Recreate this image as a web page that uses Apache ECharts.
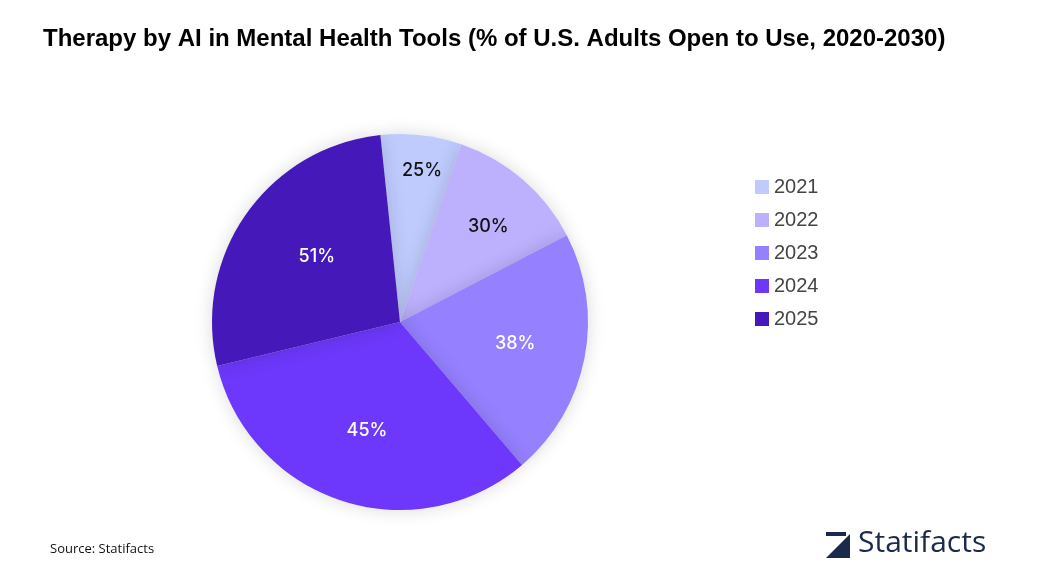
<!DOCTYPE html>
<html><head><meta charset="utf-8">
<script src="https://cdn.jsdelivr.net/npm/echarts@6/dist/echarts.min.js"></script>
<style>html,body{margin:0;padding:0;background:#fff}#c{width:1043px;height:586px}</style>
</head><body><div id="c"></div>
<script>
// categories and values
const years = ['2021', '2022', '2023', '2024', '2025'];
const percents = [25, 30, 38, 45, 51];
// slice sizes in degrees as drawn in the reference (not proportional to labels)
const sliceDegrees = [25, 43.5, 77, 117, 97.5];
const colors = ['#bfcbfd', '#bdb0fd', '#9580ff', '#6d38fb', '#4418b9'];
const labelColors = ['#111', '#111', '#fff', '#fff', '#fff'];
// nudges so labels sit where the reference puts them
const labelOffsets = [[11, -55], [25, -22], [20, 3], [-3, 16], [-4, -9]];

const chart = echarts.init(document.getElementById('c'));
chart.setOption({
  animation: false,
  title: {
    text: 'Therapy by AI in Mental Health Tools (% of U.S. Adults Open to Use, 2020-2030)',
    left: 38, top: 22,
    textStyle: { fontFamily: 'Liberation Sans, Arial', fontWeight: 'bold', fontSize: 24, color: '#000' }
  },
  legend: {
    orient: 'vertical', left: 750, top: 172, itemGap: 13,
    itemWidth: 14, itemHeight: 14, icon: 'rect',
    textStyle: { fontFamily: 'Liberation Sans, Arial', fontSize: 20, color: '#444' },
    data: years
  },
  graphic: [
    { type: 'text', left: 50, top: 543, style: { text: 'Source: Statifacts', font: '13px "Open Sans", sans-serif', fill: '#111' } },
    { type: 'text', left: 858, top: 528, style: { text: 'Statifacts', font: '30px "Open Sans", sans-serif', fill: '#1b2a4a' } },
    { type: 'polygon', shape: { points: [[826,558],[850,534],[850,558]] }, style: { fill: '#1b2a4a' } },
    { type: 'rect', shape: { x: 826, y: 532, width: 20, height: 4 }, style: { fill: '#1b2a4a' } }
  ],
  series: [{
    type: 'pie',
    center: [400, 322], radius: [0, 188],
    startAngle: 96, clockwise: true,
    itemStyle: { shadowBlur: 18, shadowColor: 'rgba(0,0,0,0.15)' },
    label: {
      position: 'inside', fontFamily: 'Inter, Liberation Sans', fontSize: 18, fontWeight: 500
    },
    labelLine: { show: false },
    data: years.map((y, i) => ({
      name: y, value: sliceDegrees[i],
      itemStyle: { color: colors[i] },
      label: { formatter: percents[i] + '%', color: labelColors[i], offset: labelOffsets[i] }
    }))
  }]
});
</script></body></html>
